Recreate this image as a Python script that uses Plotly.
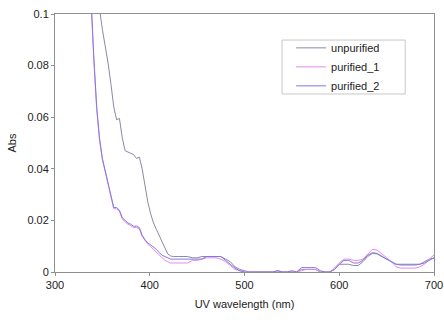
import plotly.graph_objects as go

wavelength = [335, 338, 341, 344, 347, 350, 353, 356, 359, 362, 365, 368, 371, 374, 377,
              380, 383, 386, 389, 392, 395, 398, 401, 404, 407, 410, 413, 416, 419, 422,
              425, 430, 435, 440, 445, 450, 455, 460, 465, 470, 475, 480, 485, 490, 495,
              500, 505, 510, 515, 520, 525, 530, 535, 540, 545, 550, 555, 560, 565, 570,
              575, 580, 585, 590, 595, 600, 605, 610, 615, 620, 625, 630, 635, 640, 645,
              650, 655, 660, 665, 670, 675, 680, 685, 690, 695, 700]

unpurified = [0.160, 0.140, 0.125, 0.113, 0.102, 0.094, 0.088, 0.081, 0.073, 0.064, 0.059, 0.0595, 0.052, 0.047, 0.0465,
              0.046, 0.0455, 0.044, 0.0445, 0.040, 0.033, 0.027, 0.0225, 0.019, 0.0165, 0.014, 0.0115, 0.009, 0.007, 0.0062,
              0.006, 0.006, 0.006, 0.006, 0.0055, 0.0055, 0.006, 0.006, 0.006, 0.006, 0.006, 0.005, 0.004, 0.002, 0.001,
              0.0005, 0.0, 0.0, 0.0, 0.0, 0.0, 0.0, 0.0005, 0.0, 0.0, 0.0, 0.0, 0.001, 0.001, 0.001,
              0.001, 0.0, 0.0, 0.0, 0.001, 0.003, 0.003, 0.003, 0.0025, 0.0025, 0.004, 0.006, 0.0072, 0.007, 0.006,
              0.005, 0.004, 0.003, 0.0027, 0.0027, 0.0027, 0.0027, 0.003, 0.004, 0.005, 0.0054]

purified_1 = [0.128, 0.104, 0.082, 0.063, 0.051, 0.0435, 0.0385, 0.0345, 0.0295, 0.0245, 0.0245, 0.0235, 0.0205, 0.0195, 0.0185,
              0.018, 0.0172, 0.0173, 0.0167, 0.0138, 0.012, 0.0107, 0.0098, 0.0088, 0.0078, 0.0065, 0.0055, 0.0045, 0.004, 0.0035,
              0.0035, 0.0035, 0.0035, 0.0035, 0.0045, 0.0045, 0.005, 0.0055, 0.0055, 0.0055, 0.005, 0.004, 0.0025, 0.001, 0.0005,
              0.0, 0.0, 0.0, 0.0, 0.0, 0.0, 0.0, 0.0, 0.0, 0.0, 0.0, 0.0, 0.0005, 0.001, 0.001,
              0.001, 0.0, 0.0, 0.0, 0.0015, 0.0035, 0.005, 0.005, 0.0045, 0.0045, 0.005, 0.007, 0.0088, 0.0085, 0.007,
              0.0055, 0.004, 0.002, 0.0015, 0.0015, 0.0015, 0.0015, 0.002, 0.003, 0.005, 0.0066]

purified_2 = [0.130, 0.105, 0.083, 0.064, 0.052, 0.044, 0.039, 0.035, 0.030, 0.025, 0.025, 0.024, 0.021, 0.020, 0.019,
              0.0185, 0.0177, 0.0178, 0.0172, 0.0143, 0.0125, 0.0113, 0.0105, 0.0096, 0.0088, 0.0075, 0.0065, 0.006, 0.0055, 0.005,
              0.005, 0.005, 0.005, 0.005, 0.005, 0.005, 0.005, 0.006, 0.006, 0.006, 0.006, 0.0045, 0.003, 0.0015, 0.0005,
              0.0, 0.0, 0.0, 0.0, 0.0, 0.0, 0.0, 0.0005, 0.0, 0.0, 0.0005, 0.0, 0.0017, 0.0017, 0.0017,
              0.0017, 0.0005, 0.0, 0.0, 0.001, 0.003, 0.0045, 0.0045, 0.0035, 0.0035, 0.0045, 0.0065, 0.0075, 0.0072, 0.006,
              0.005, 0.004, 0.003, 0.003, 0.003, 0.003, 0.003, 0.003, 0.0035, 0.0045, 0.0055]

series_names = ["unpurified", "purified_1", "purified_2"]
series_values = [unpurified, purified_1, purified_2]
series_colors = ["#8a8aa6", "#e48ae8", "#8478e0"]

fig = go.Figure()
for name, vals, col in zip(series_names, series_values, series_colors):
    fig.add_trace(go.Scatter(x=wavelength, y=vals, name=name, mode="lines",
                             line=dict(color=col, width=1)))

font_family = "Liberation Sans, Arial, sans-serif"

# legend frame (decoration)
fig.add_shape(type="rect", xref="paper", yref="paper",
              x0=0.599, x1=0.924, y0=0.69, y1=0.899,
              line=dict(color="#c8c8c8", width=1), fillcolor="rgba(0,0,0,0)", layer="below")

fig.update_layout(
    width=444, height=322,
    margin=dict(l=55, r=10, t=14, b=50, autoexpand=False),
    paper_bgcolor="white", plot_bgcolor="white",
    font=dict(family=font_family, size=11, color="#222222"),
    showlegend=True,
    legend=dict(x=0.623, y=0.925, xanchor="left", yanchor="top",
                borderwidth=0, bgcolor="rgba(0,0,0,0)",
                font=dict(size=11, family=font_family)),
    xaxis=dict(range=[300, 700], tickmode="linear", tick0=300, dtick=100,
               showgrid=False, zeroline=False, showline=True, linecolor="#909090",
               linewidth=1, mirror=True, ticks="outside", ticklen=3, tickcolor="#909090",
               automargin=False,
               title=dict(text="UV wavelength (nm)", standoff=10, font=dict(size=11))),
    yaxis=dict(range=[0, 0.1], tickmode="linear", tick0=0, dtick=0.02,
               showgrid=False, zeroline=False, showline=True, linecolor="#909090",
               linewidth=1, mirror=True, ticks="outside", ticklen=3, tickcolor="#909090",
               automargin=False,
               title=dict(text="Abs", standoff=8, font=dict(size=11))),
)

fig.write_html("out.html")
